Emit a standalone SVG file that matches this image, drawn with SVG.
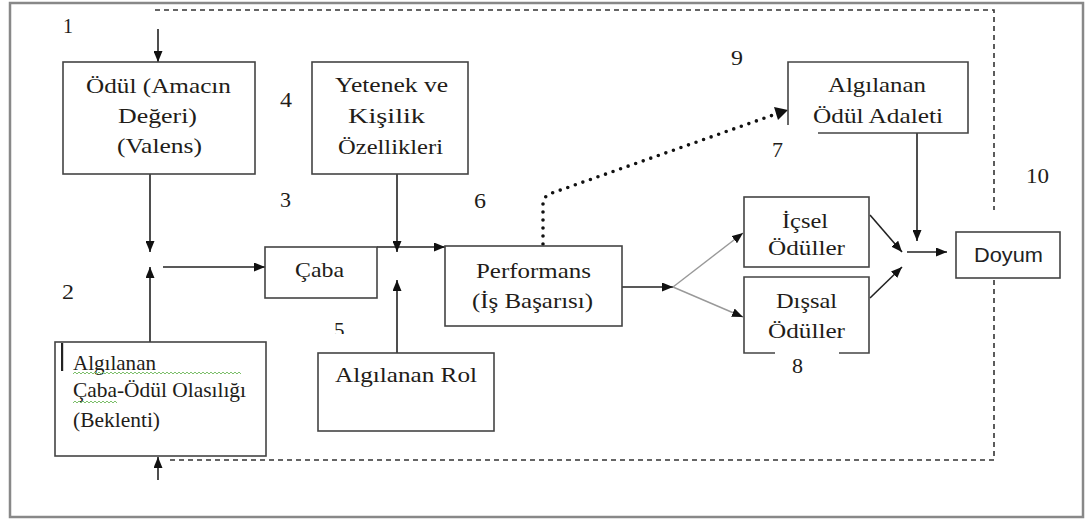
<svg xmlns="http://www.w3.org/2000/svg" width="1086" height="521" viewBox="0 0 1086 521">
<style>
.box{fill:#fff;stroke:#444;stroke-width:1.6}
.t{font-family:"Liberation Serif","Times New Roman",serif;font-size:21px;fill:#221c18}
.n{font-family:"Liberation Serif","Times New Roman",serif;font-size:21px;fill:#221c18}
.s{font-family:"Liberation Sans",Arial,sans-serif;font-size:20px;fill:#222}
.c{fill:none;stroke:#222;stroke-width:1.6}
.g{fill:none;stroke:#999;stroke-width:1.4}
.d{fill:none;stroke:#333;stroke-width:1.6;stroke-dasharray:5 4}
.dot{fill:none;stroke:#111;stroke-width:3.6;stroke-linecap:round;stroke-dasharray:0 8}
.w{fill:none;stroke:#7cbf6a;stroke-width:1}
</style>
<defs>
<marker id="ah" markerUnits="userSpaceOnUse" markerWidth="11" markerHeight="9" refX="11" refY="4.5" orient="auto">
<path d="M0,0 L11,4.5 L0,9 z" fill="#111"/>
</marker>
<clipPath id="cut5"><rect x="320" y="310" width="40" height="24"/></clipPath>
</defs>
<rect x="10" y="3" width="1073" height="514" fill="#fff" stroke="#888" stroke-width="2.5"/>

<g id="connectors">
<path class="d" d="M155,10 H994 V210"/>
<path class="d" d="M994,280 V460 H167"/>
<line class="c" x1="158" y1="29" x2="158" y2="62" marker-end="url(#ah)"/>
<line class="c" x1="158" y1="480" x2="158" y2="457" marker-end="url(#ah)"/>
<line class="c" x1="150" y1="174" x2="150" y2="252" marker-end="url(#ah)"/>
<line class="c" x1="150" y1="342" x2="150" y2="267" marker-end="url(#ah)"/>
<line class="c" x1="163" y1="267" x2="265" y2="267" marker-end="url(#ah)"/>
<line class="c" x1="377" y1="247" x2="445" y2="247" marker-end="url(#ah)"/>
<line class="c" x1="397" y1="174" x2="397" y2="252" marker-end="url(#ah)"/>
<line class="c" x1="397" y1="353" x2="397" y2="280" marker-end="url(#ah)"/>
<line class="c" x1="622" y1="287" x2="673" y2="287" marker-end="url(#ah)"/>
<line class="g" x1="673" y1="287" x2="743" y2="233" marker-end="url(#ah)"/>
<line class="g" x1="673" y1="287" x2="743" y2="317" marker-end="url(#ah)"/>
<path class="dot" d="M543,244 V204 Q543,196 552,193 L776,114"/>
<path d="M774,107 L788,110 L778,120 z" fill="#111"/>
<line class="c" x1="870" y1="215" x2="902" y2="252" marker-end="url(#ah)"/>
<line class="c" x1="870" y1="298" x2="902" y2="267" marker-end="url(#ah)"/>
<line class="c" x1="917" y1="133" x2="917" y2="241" marker-end="url(#ah)"/>
<line class="c" x1="907" y1="252" x2="947" y2="252" marker-end="url(#ah)"/>
</g>

<g id="odul">
<rect class="box" x="63" y="62" width="192" height="112"/>
<text class="t" x="86" y="93" textLength="145" lengthAdjust="spacingAndGlyphs">Ödül (Amacın</text>
<text class="t" x="118" y="123" textLength="79" lengthAdjust="spacingAndGlyphs">Değeri)</text>
<text class="t" x="117" y="153" textLength="85" lengthAdjust="spacingAndGlyphs">(Valens)</text>
</g>

<g id="yetenek">
<rect class="box" x="312" y="62" width="156" height="112"/>
<text class="t" x="335" y="92" textLength="113" lengthAdjust="spacingAndGlyphs">Yetenek ve</text>
<text class="t" x="348" y="123" textLength="77" lengthAdjust="spacingAndGlyphs">Kişilik</text>
<text class="t" x="338" y="154" textLength="105" lengthAdjust="spacingAndGlyphs">Özellikleri</text>
</g>

<g id="adalet">
<path class="box" d="M788,125 V62 H968 V133 H818" fill="none"/>
<text class="t" x="828" y="92" textLength="98" lengthAdjust="spacingAndGlyphs">Algılanan</text>
<text class="t" x="813" y="123" textLength="130" lengthAdjust="spacingAndGlyphs">Ödül Adaleti</text>
</g>

<g id="caba">
<rect class="box" x="265" y="247" width="112" height="51"/>
<text class="t" x="295" y="277" textLength="49" lengthAdjust="spacingAndGlyphs">Çaba</text>
</g>

<g id="performans">
<rect class="box" x="445" y="246" width="177" height="80"/>
<text class="t" x="476" y="278" textLength="115" lengthAdjust="spacingAndGlyphs">Performans</text>
<text class="t" x="472" y="308" textLength="121" lengthAdjust="spacingAndGlyphs">(İş Başarısı)</text>
</g>

<g id="icsel">
<rect class="box" x="744" y="197" width="125" height="70"/>
<text class="t" x="782" y="228" textLength="46" lengthAdjust="spacingAndGlyphs">İçsel</text>
<text class="t" x="768" y="255" textLength="77" lengthAdjust="spacingAndGlyphs">Ödüller</text>
</g>

<g id="dissal">
<path class="box" d="M775,353 H744 V277 H869 V353 H839" fill="none"/>
<text class="t" x="776" y="308" textLength="61" lengthAdjust="spacingAndGlyphs">Dışsal</text>
<text class="t" x="768" y="338" textLength="77" lengthAdjust="spacingAndGlyphs">Ödüller</text>
</g>

<g id="doyum">
<rect class="box" x="956" y="232" width="104" height="46"/>
<text class="s" x="974" y="262" textLength="69" lengthAdjust="spacingAndGlyphs">Doyum</text>
</g>

<g id="beklenti">
<rect class="box" x="55" y="342" width="211" height="114"/>
<rect x="61" y="343" width="2.2" height="28" fill="#222"/>
<text class="t" x="73" y="370" textLength="83" lengthAdjust="spacingAndGlyphs">Algılanan</text>
<path class="w" d="M73,374 l2,-2 l2,2 l2,-2 l2,2 l2,-2 l2,2 l2,-2 l2,2 l2,-2 l2,2 l2,-2 l2,2 l2,-2 l2,2 l2,-2 l2,2 l2,-2 l2,2 l2,-2 l2,2 l2,-2 l2,2 l2,-2 l2,2 l2,-2 l2,2 l2,-2 l2,2 l2,-2 l2,2 l2,-2 l2,2 l2,-2 l2,2 l2,-2 l2,2 l2,-2 l2,2 l2,-2 l2,2 l2,-2 l2,2 l2,-2 l2,2 l2,-2 l2,2 l2,-2 l2,2 l2,-2 l2,2 l2,-2 l2,2 l2,-2 l2,2 l2,-2 l2,2 l2,-2 l2,2 l2,-2 l2,2 l2,-2 l2,2 l2,-2 l2,2 l2,-2 l2,2 l2,-2 l2,2 l2,-2 l2,2 l2,-2 l2,2 l2,-2 l2,2 l2,-2 l2,2 l2,-2 l2,2 l2,-2 l2,2 l2,-2 l2,2 l2,-2 l2,2"/>
<text class="t" x="73" y="397" textLength="173" lengthAdjust="spacingAndGlyphs">Çaba-Ödül Olasılığı</text>
<path class="w" d="M73,403 l2,-2 l2,2 l2,-2 l2,2 l2,-2 l2,2 l2,-2 l2,2 l2,-2 l2,2 l2,-2 l2,2 l2,-2 l2,2 l2,-2 l2,2 l2,-2 l2,2 l2,-2 l2,2 l2,-2 l2,2"/>
<text class="t" x="73" y="427" textLength="87" lengthAdjust="spacingAndGlyphs">(Beklenti)</text>
</g>

<g id="rol">
<rect class="box" x="318" y="353" width="176" height="78"/>
<text class="t" x="335" y="382" textLength="142" lengthAdjust="spacingAndGlyphs">Algılanan Rol</text>
</g>

<g id="labels">
<text class="n" x="63" y="33" textLength="10" lengthAdjust="spacingAndGlyphs">1</text>
<text class="n" x="62" y="299" textLength="12" lengthAdjust="spacingAndGlyphs">2</text>
<text class="n" x="280" y="207" textLength="11" lengthAdjust="spacingAndGlyphs">3</text>
<text class="n" x="280" y="107" textLength="12" lengthAdjust="spacingAndGlyphs">4</text>
<text class="n" x="334" y="337" clip-path="url(#cut5)">5</text>
<text class="n" x="474" y="208" textLength="12" lengthAdjust="spacingAndGlyphs">6</text>
<text class="n" x="772" y="157" textLength="11" lengthAdjust="spacingAndGlyphs">7</text>
<text class="n" x="792" y="373" textLength="11" lengthAdjust="spacingAndGlyphs">8</text>
<text class="n" x="731" y="65" textLength="12" lengthAdjust="spacingAndGlyphs">9</text>
<text class="n" x="1026" y="183" textLength="23" lengthAdjust="spacingAndGlyphs">10</text>
</g>
</svg>
